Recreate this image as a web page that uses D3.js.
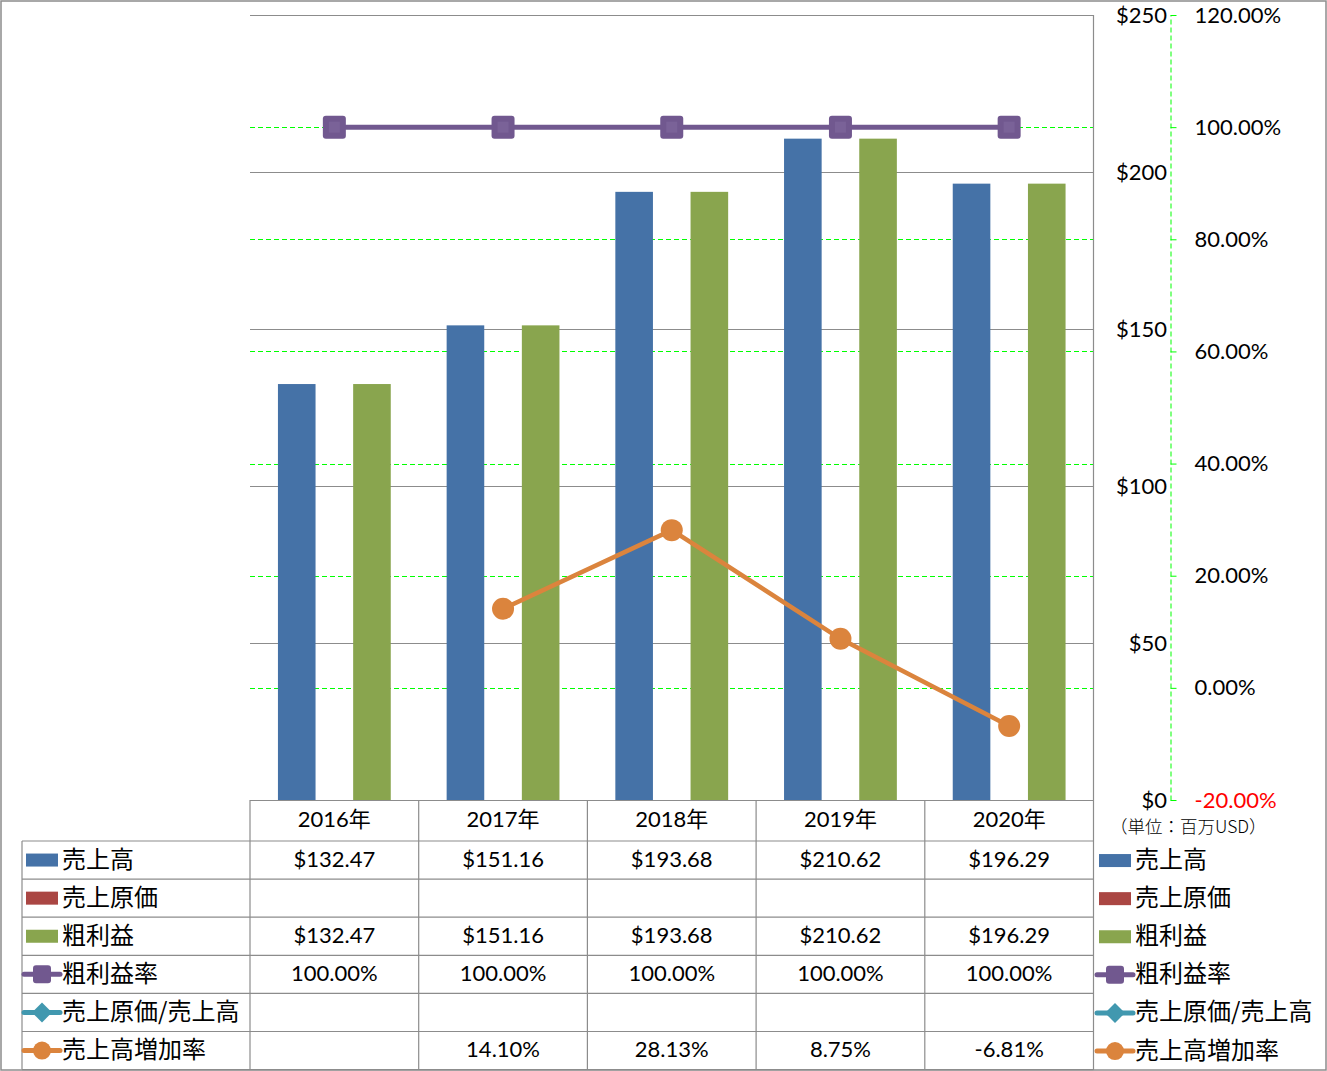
<!DOCTYPE html>
<html><head><meta charset="utf-8">
<script src="https://cdn.jsdelivr.net/npm/d3@7"></script>
<style>
body{margin:0;background:#fff;}
text{font-family:Lato,"Noto Sans CJK JP",sans-serif;}
</style></head>
<body><svg id="c" width="1327" height="1071"></svg>
<script>
const years = ["2016年","2017年","2018年","2019年","2020年"];
const sales = [132.47,151.16,193.68,210.62,196.29];
const cogs = [null,null,null,null,null];
const gross = [132.47,151.16,193.68,210.62,196.29];
const grossRate = [100,100,100,100,100];
const cogsRatio = [null,null,null,null,null];
const growth = [null,14.10,28.13,8.75,-6.81];
const leftTicks = [0,50,100,150,200,250];
const rightTicks = [-20,0,20,40,60,80,100,120];
const barSeries = ["売上高","売上原価","粗利益"];
const lineSeries = ["粗利益率","売上原価/売上高","売上高増加率"];
const colors = {"売上高":"#4572A7","売上原価":"#AA4643","粗利益":"#89A54E","粗利益率":"#71588F","売上原価/売上高":"#4198AF","売上高増加率":"#DB843D"};

const svg = d3.select("#c");
const L=250,R=1093.5,T=15,B=800;
const x0 = d3.scaleBand().domain(years).range([L,R]).padding(0);
const x1 = d3.scaleBand().domain(barSeries).range([0,x0.bandwidth()]).paddingInner(0).paddingOuter(0.743);
const yL = d3.scaleLinear().domain([0,250]).range([B,T]);
const yR = d3.scaleLinear().domain([-20,120]).range([B,T]);
const grey="#8c8c8c", green="#00ff00";
const NUM=22, CJK=24;

// outer border
svg.append("rect").attr("x",1).attr("y",1).attr("width",1325).attr("height",1069).attr("fill","none").attr("stroke",grey).attr("stroke-width",1.5);

// green secondary gridlines
svg.append("g").selectAll("line").data(rightTicks.filter(t=>t>-20 && t<120)).join("line")
  .attr("x1",L).attr("x2",R).attr("y1",d=>Math.round(yR(d))+0.5).attr("y2",d=>Math.round(yR(d))+0.5)
  .attr("stroke",green).attr("stroke-dasharray","5,3");
// grey primary gridlines
svg.append("g").selectAll("line").data(leftTicks.filter(t=>t>0)).join("line")
  .attr("x1",L).attr("x2",R).attr("y1",d=>Math.round(yL(d))+0.5).attr("y2",d=>Math.round(yL(d))+0.5)
  .attr("stroke",grey).attr("stroke-width",1.2);

// bars
const barData = {"売上高":sales,"売上原価":cogs,"粗利益":gross};
barSeries.forEach(s=>{
  svg.append("g").selectAll("rect").data(years.map((y,i)=>({y,v:barData[s][i]})).filter(d=>d.v!=null)).join("rect")
    .attr("x",d=>x0(d.y)+x1(s)).attr("width",x1.bandwidth())
    .attr("y",d=>yL(d.v)).attr("height",d=>B-yL(d.v)).attr("fill",colors[s]);
});

// lines
const cx = y=>x0(y)+x0.bandwidth()/2;
function drawLine(vals,color,w){
  const pts = years.map((y,i)=>({y,v:vals[i]})).filter(d=>d.v!=null);
  svg.append("path").datum(pts).attr("fill","none").attr("stroke",color).attr("stroke-width",w)
    .attr("d",d3.line().x(d=>cx(d.y)).y(d=>yR(d.v)));
  return pts;
}
const p1 = drawLine(grossRate,colors["粗利益率"],5);
svg.append("g").selectAll("rect").data(p1).join("rect")
  .attr("x",d=>cx(d.y)-11.5).attr("y",d=>yR(d.v)-11.5).attr("width",23).attr("height",23).attr("rx",3)
  .attr("fill",colors["粗利益率"]);
svg.append("g").selectAll("rect").data(p1).join("rect")
  .attr("x",d=>cx(d.y)-5.5).attr("y",d=>yR(d.v)-5.5).attr("width",11).attr("height",11)
  .attr("fill","#7a6298");
const p2 = drawLine(growth,colors["売上高増加率"],4.5);
svg.append("g").selectAll("circle").data(p2).join("circle")
  .attr("cx",d=>cx(d.y)).attr("cy",d=>yR(d.v)).attr("r",11).attr("fill",colors["売上高増加率"]);

// primary axis line (right side of plot)
svg.append("line").attr("x1",R).attr("x2",R).attr("y1",T).attr("y2",1070).attr("stroke",grey).attr("stroke-width",1.2);
svg.append("line").attr("x1",L).attr("x2",R).attr("y1",T+0.5).attr("y2",T+0.5).attr("stroke",grey).attr("stroke-width",1.2);

// left ($) axis labels
const axL = svg.append("g").attr("transform","translate(1167,0)");
axL.call(d3.axisLeft(yL).tickValues(leftTicks).tickFormat(d=>"$"+d).tickSize(0).tickPadding(0));
axL.select(".domain").remove();
axL.selectAll("text").attr("font-size",NUM).attr("fill","#000").attr("font-family",null);

// right (%) axis
const axR = svg.append("g").attr("transform","translate(1170.5,0)");
axR.call(d3.axisRight(yR).tickValues(rightTicks).tickFormat(d=>d.toFixed(2)+"%").tickSize(6).tickPadding(18).tickSizeOuter(0));
axR.select(".domain").attr("stroke",green).attr("stroke-dasharray","5,3");
axR.selectAll(".tick line").attr("stroke",green);
axR.selectAll("text").attr("font-size",NUM).attr("fill",d=>d<0?"#ff0000":"#000").attr("font-family",null);

svg.append("text").attr("x",1110).attr("y",828).attr("dominant-baseline","middle")
  .attr("font-size",17.5).style("font-family","'Noto Sans CJK JP'").attr("font-weight",300).text("（単位：百万USD）");

// data table
const rowH = 38.1, headTop = B, headH = 41;
const rows = [
  {name:"売上高",type:"bar",vals:sales.map(v=>v==null?"":"$"+v.toFixed(2))},
  {name:"売上原価",type:"bar",vals:cogs.map(v=>v==null?"":"$"+v.toFixed(2))},
  {name:"粗利益",type:"bar",vals:gross.map(v=>v==null?"":"$"+v.toFixed(2))},
  {name:"粗利益率",type:"square",vals:grossRate.map(v=>v==null?"":v.toFixed(2)+"%")},
  {name:"売上原価/売上高",type:"diamond",vals:cogsRatio.map(v=>v==null?"":v.toFixed(2)+"%")},
  {name:"売上高増加率",type:"circle",vals:growth.map(v=>v==null?"":v.toFixed(2)+"%")}
];
const tg = svg.append("g");
const rowTop = i=>headTop+headH+i*rowH;
tg.append("line").attr("x1",L).attr("x2",R).attr("y1",headTop+0.5).attr("y2",headTop+0.5).attr("stroke",grey).attr("stroke-width",1.2);
for(let i=0;i<=rows.length;i++){
  tg.append("line").attr("x1",22).attr("x2",R).attr("y1",rowTop(i)).attr("y2",rowTop(i)).attr("stroke",grey).attr("stroke-width",1.2);
}
years.forEach(y=>{
  tg.append("line").attr("x1",x0(y)).attr("x2",x0(y)).attr("y1",headTop).attr("y2",rowTop(rows.length)).attr("stroke",grey).attr("stroke-width",1.2);
});
tg.append("line").attr("x1",22).attr("x2",22).attr("y1",rowTop(0)).attr("y2",rowTop(rows.length)).attr("stroke",grey).attr("stroke-width",1.2);
tg.selectAll("text.h").data(years).join("text").attr("class","h")
  .attr("x",d=>cx(d)).attr("y",headTop+headH/2+1).attr("text-anchor","middle").attr("dominant-baseline","middle")
  .attr("font-size",NUM).text(d=>d);
rows.forEach((r,i)=>{
  const yc = rowTop(i)+rowH/2+1;
  tg.append("g").selectAll("text").data(r.vals).join("text")
    .attr("x",(d,j)=>cx(years[j])).attr("y",yc).attr("text-anchor","middle").attr("dominant-baseline","middle")
    .attr("font-size",NUM).text(d=>d);
});

function legendKey(g,r,x,yc){
  const c = colors[r.name];
  if(r.type==="bar"){
    g.append("rect").attr("x",x+2).attr("y",yc-6.5).attr("width",32).attr("height",13).attr("fill",c);
  } else {
    g.append("line").attr("x1",x).attr("x2",x+36).attr("y1",yc).attr("y2",yc).attr("stroke",c).attr("stroke-width",5).attr("stroke-linecap","round");
    const mx=x+18;
    if(r.type==="square") g.append("rect").attr("x",mx-9).attr("y",yc-9).attr("width",18).attr("height",18).attr("rx",3).attr("fill",c);
    if(r.type==="diamond") g.append("path").attr("d",`M${mx},${yc-10}L${mx+10},${yc}L${mx},${yc+10}L${mx-10},${yc}Z`).attr("fill",c);
    if(r.type==="circle") g.append("circle").attr("cx",mx).attr("cy",yc).attr("r",9).attr("fill",c);
  }
  g.append("text").attr("x",x+38).attr("y",yc+1).attr("dominant-baseline","middle")
    .attr("font-size",CJK).style("font-family","'Noto Sans CJK JP'").text(r.name);
}
const lg = svg.append("g");
rows.forEach((r,i)=>{
  const yc = rowTop(i)+rowH/2;
  legendKey(lg,r,24,yc);
  legendKey(lg,r,1097,yc+0.5);
});
</script></body></html>
